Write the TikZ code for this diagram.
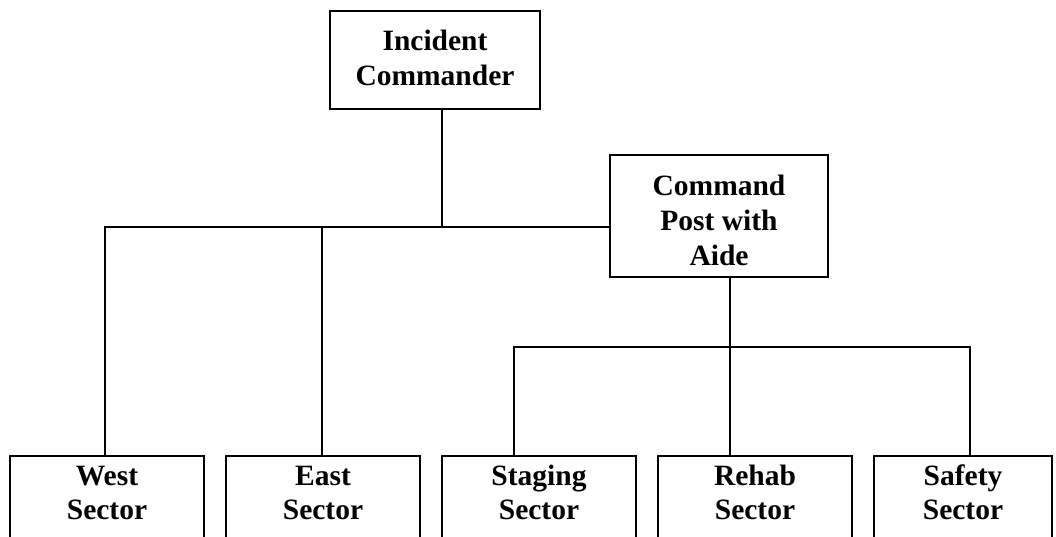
\documentclass[tikz,border=0pt]{standalone}
\usepackage{fontspec}
\setmainfont{Liberation Serif}
\usetikzlibrary{positioning}

\begin{document}
\begin{tikzpicture}[
            x=1pt, y=-1pt,
            line width=2pt,
            block/.style={draw, rectangle, align=center, inner sep=0pt,
                            font=\bfseries\fontsize{29.5}{35}\selectfont},
            sector/.style={block, anchor=north, text height=63pt, text depth=22pt,
                            font=\bfseries\fontsize{29.5}{34}\selectfont,
                            minimum height=85pt, minimum width=194pt}
        ]
            \useasboundingbox (0,0) rectangle (1056,536);
            \clip (0,0) rectangle (1056,536);

            \node[block, minimum width=210pt, minimum height=98pt,
                  text height=74pt, text depth=24pt] (ic) at (435,60) {Incident\\Commander};
            \node[block, minimum width=218pt, minimum height=122pt,
                  text height=110pt, text depth=12pt] (cp) at (719,216) {Command\\Post with\\Aide};

            \node[sector] (west) at (107,455) {West\\Sector};
            \node[sector, right of=west, node distance=216pt] (east) {East\\Sector};
            \node[sector, right of=east, node distance=216pt] (staging) {Staging\\Sector};
            \node[sector, right of=staging, node distance=216pt] (rehab) {Rehab\\Sector};
            \node[sector, right of=rehab, node distance=208pt, minimum width=178pt] (safety) {Safety\\Sector};

            \coordinate (icbus) at (442,227);
            \coordinate (westbus) at (105,227);
            \coordinate (eastbus) at (322,227);
            \coordinate (cpbus) at (730,347);
            \coordinate (stagingbus) at (514,347);
            \coordinate (safetybus) at (970,347);

            \draw (icbus |- ic.south) -- (icbus);
            \draw (westbus |- west.north) -- (westbus) -- (westbus -| cp.west);
            \draw (eastbus) -- (eastbus |- east.north);

            \draw (cpbus |- cp.south) -- (cpbus) -- (cpbus |- rehab.north);
            \draw (stagingbus |- staging.north) -- (stagingbus) -- (safetybus) -- (safetybus |- safety.north);

        \end{tikzpicture}
\end{document}
